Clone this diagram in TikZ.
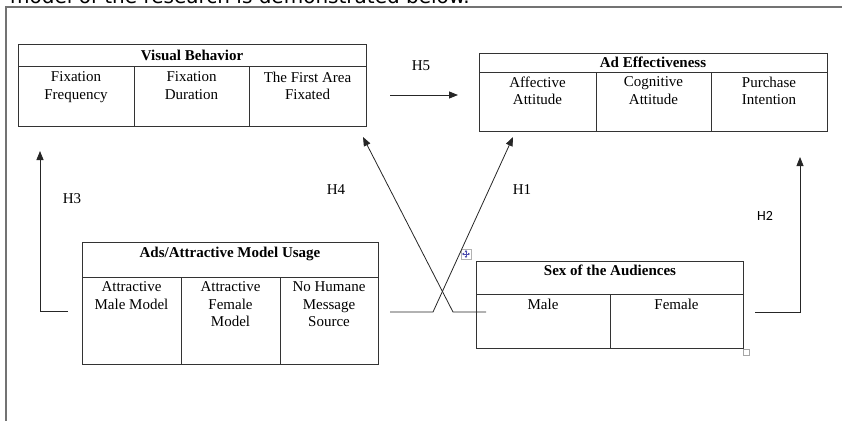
\documentclass[tikz,border=0pt]{standalone}
\usepackage{fontspec}
\setmainfont{Liberation Serif}
\newfontfamily\hfont{Carlito}
\newfontfamily\topfont{DejaVu Sans}
\usetikzlibrary{arrows.meta}
\tikzset{
  tbl/.style={draw=black!80, line width=0.9pt, rectangle, inner sep=0pt, outer sep=0pt, anchor=north west},
  tblline/.style={draw=black!80, line width=0.9pt},
  cell/.style={inner sep=0pt, anchor=north, align=center, font=\fontsize{15}{17.5}\selectfont},
  head/.style={inner sep=0pt, anchor=base, font=\bfseries\fontsize{15}{17.5}\selectfont},
  hlab/.style={inner sep=0pt, font=\fontsize{15}{17}\selectfont},
  conn/.style={draw=black!85, line width=0.8pt, -{Triangle[length=9pt,width=7pt]}},
  frame/.style={draw=black!55, line width=1.3pt}
}
\begin{document}
\begin{tikzpicture}[x=1pt,y=-1pt]
\useasboundingbox (0,0) rectangle (842,420);
% cropped intro text
\begin{scope}
\clip (0,0) rectangle (842,420);
\node[anchor=base east, inner sep=0pt, font=\topfont\fontsize{20}{22}\selectfont] (intro) at (470,3.5) {model of the research is demonstrated below.};
\end{scope}
% frame
\draw[frame] (842,7) -- (6,7) -- (6,421);

% Visual Behavior
\node[tbl, minimum width=348pt, minimum height=82pt] (vb) at (18,44) {};
\draw[tblline] (18,66) -- (366,66);
\draw[tblline] (134,66) -- (134,126);
\draw[tblline] (249,66) -- (249,126);
\node[head] (vbh) at (192,60) {Visual Behavior};
\node[cell] (vb1) at (76,71.5) {Fixation\\Frequency};
\node[cell] (vb2) at (191.5,71.5) {Fixation\\Duration};
\node[cell] (vb3) at (307.5,71.5) {The First Area\\Fixated};

% Ad Effectiveness
\node[tbl, minimum width=348pt, minimum height=78pt] (ae) at (479,53) {};
\draw[tblline] (479,72) -- (827,72);
\draw[tblline] (596,72) -- (596,131);
\draw[tblline] (711,72) -- (711,131);
\node[head] (aeh) at (653,67) {Ad Effectiveness};
\node[cell] (ae1) at (537.5,76.5) {Affective\\Attitude};
\node[cell] (ae2) at (653.5,76.5) {Cognitive\\Attitude};
\node[cell] (ae3) at (769,76.5) {Purchase\\Intention};

% Ads / Attractive Model Usage
\node[tbl, minimum width=296pt, minimum height=122pt] (am) at (82,242) {};
\draw[tblline] (82,277) -- (378,277);
\draw[tblline] (181,277) -- (181,364);
\draw[tblline] (280,277) -- (280,364);
\node[head] (amh) at (230,257) {Ads/Attractive Model Usage};
\node[cell] (am1) at (131.5,281.5) {Attractive\\Male Model};
\node[cell] (am2) at (230.5,281.5) {Attractive\\Female\\Model};
\node[cell] (am3) at (329,281.5) {No Humane\\Message\\Source};

% Sex of the Audiences
\node[tbl, minimum width=267pt, minimum height=87pt] (sa) at (476,261) {};
\draw[tblline] (476,294) -- (743,294);
\draw[tblline] (610,294) -- (610,348);
\node[head] (sah) at (610,275) {Sex of the Audiences};
\node[cell] (sa1) at (543,298.5) {Male};
\node[cell] (sa2) at (676.5,298.5) {Female};

% Word table handles
\node[draw=black!30, fill=white, line width=0.6pt, minimum size=10pt, inner sep=0pt] (mv) at (466,254) {};
\draw[draw=blue!55!black!70, line width=0.7pt, {Triangle[length=2pt,width=2.5pt]}-{Triangle[length=2pt,width=2.5pt]}] (mv.center) ++(-4,0) -- ++(8,0);
\draw[draw=blue!55!black!70, line width=0.7pt, {Triangle[length=2pt,width=2.5pt]}-{Triangle[length=2pt,width=2.5pt]}] (mv.center) ++(0,-4) -- ++(0,8);
\node[draw=black!35, fill=white, line width=0.6pt, minimum size=6pt, inner sep=0pt, anchor=north west] (rs) at (743,349) {};

% connectors
\coordinate (h5s) at (390,95);
\coordinate (h5e) at (458,95);
\draw[conn] (h5s) -- (h5e);
\node[hlab] (h5) at (421,66) {H5};

\coordinate (h3s) at (68,311);
\coordinate (h3c) at (40,311);
\coordinate (h3e) at (40,151);
\draw[conn] (h3s) -- (h3c) -- (h3e);
\node[hlab] (h3) at (72,199) {H3};

\coordinate (h2s) at (755,312);
\coordinate (h2c) at (800,312);
\coordinate (h2e) at (800,157);
\draw[conn] (h2s) -- (h2c) -- (h2e);
\node[hlab, font=\hfont\fontsize{14}{16}\selectfont] (h2) at (765,216) {H2};

\coordinate (h4s) at (486,312);
\coordinate (h4c) at (453,312);
\coordinate (h4e) at (363,137);
\draw[conn] (h4s) -- (h4c) -- (h4e);
\node[hlab] (h4) at (336,190) {H4};

\coordinate (h1s) at (390,312);
\coordinate (h1c) at (433,312);
\coordinate (h1e) at (513,137);
\draw[conn] (h1s) -- (h1c) -- (h1e);
\node[hlab] (h1) at (522,190) {H1};
\end{tikzpicture}
\end{document}
